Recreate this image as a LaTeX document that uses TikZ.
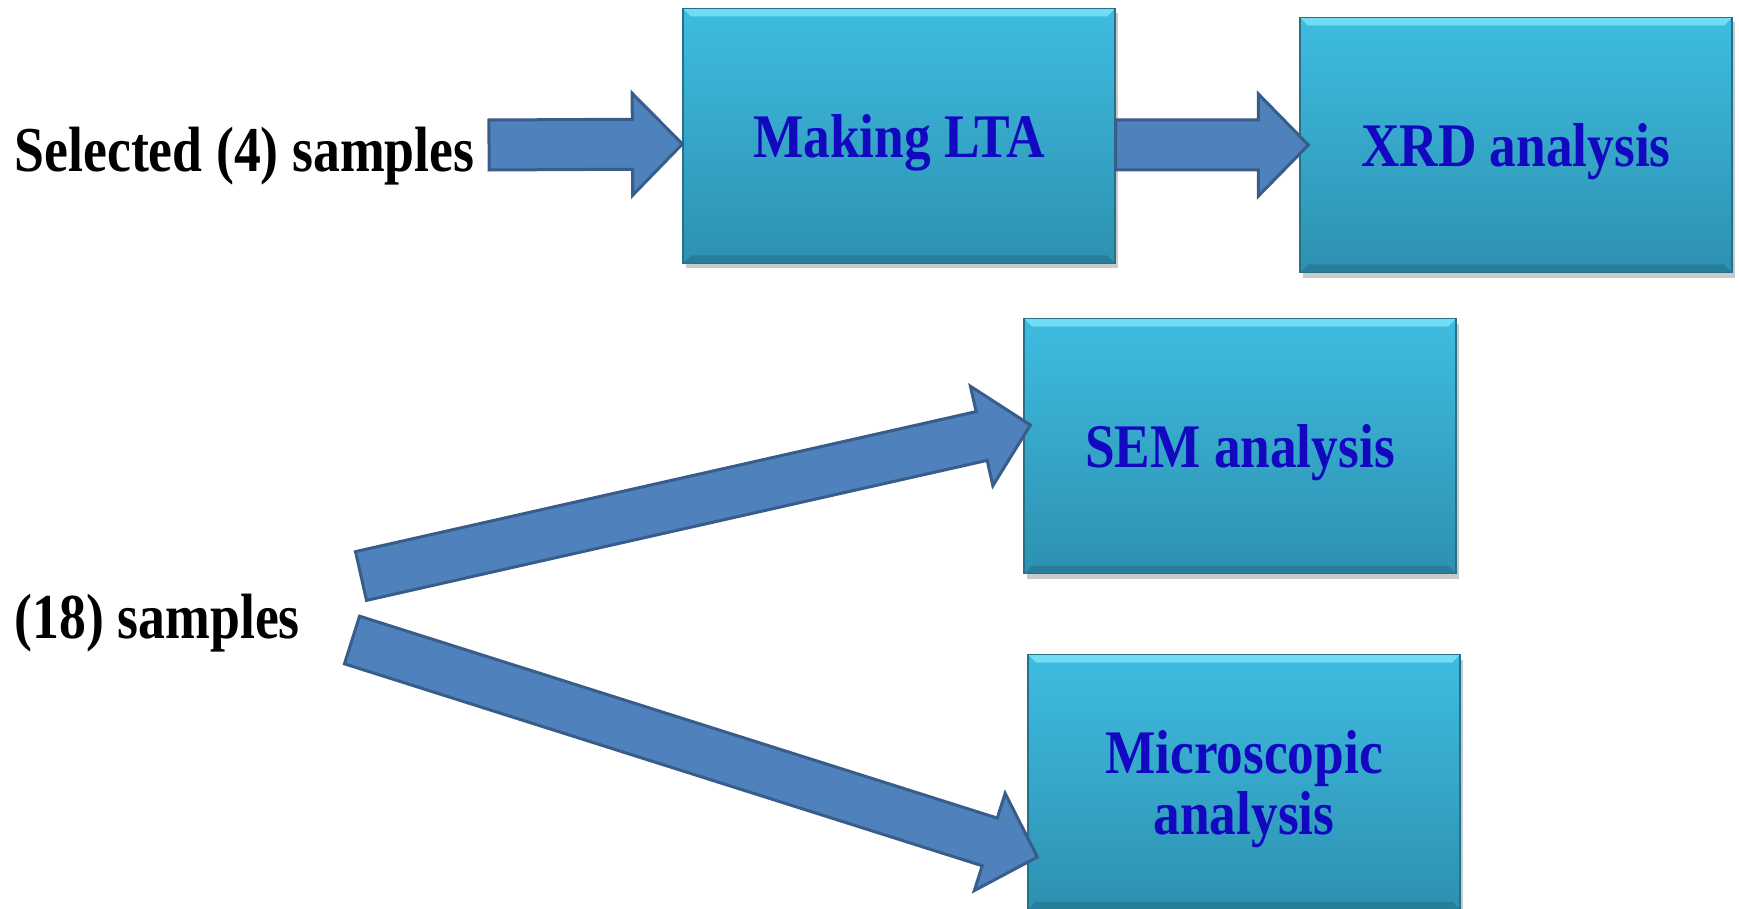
\documentclass[tikz,border=0pt]{standalone}
\usepackage{fontspec}
\setmainfont{Liberation Serif}
\newfontfamily\stagefont[FakeStretch=0.84]{Liberation Serif}
\newfontfamily\boxfont[FakeStretch=0.86]{Liberation Serif}
\usetikzlibrary{calc,shadows}
\definecolor{box_top}{RGB}{62,188,225}
\definecolor{box_bot}{RGB}{45,145,176}
\definecolor{box_edge}{RGB}{38,112,138}
\definecolor{box_hi}{RGB}{125,230,250}
\definecolor{box_lo}{RGB}{36,118,145}
\definecolor{arrow_fill}{RGB}{79,129,189}
\definecolor{arrow_edge}{RGB}{56,93,138}
\definecolor{text_blue}{RGB}{18,8,192}
\newcommand\headlen{50pt}
\newcommand\headw{51pt}
\newcommand\shaftw{25pt}
% fat block arrow from #1 (tail) to #2 (tip)
\newcommand\blockarrow[2]{%
  \coordinate (hb) at ($(#2)!\headlen!(#1)$);
  \draw[blockarr] ($(#1)!\shaftw!90:(#2)$) -- ($(hb)!\shaftw!90:(#2)$) -- ($(hb)!\headw!90:(#2)$)
    -- (#2) -- ($(hb)!\headw!-90:(#2)$) -- ($(hb)!\shaftw!-90:(#2)$) -- ($(#1)!\shaftw!-90:(#2)$) -- cycle;}

\begin{document}
\begin{tikzpicture}[x=1pt,y=-1pt,semithick]
    \tikzstyle{blockarr}=[fill=arrow_fill,draw=arrow_edge,line width=3pt,line join=miter]
    \tikzstyle{label}=[anchor=base west,text=black,font=\stagefont\bfseries\fontsize{64}{64}\selectfont]
    \tikzstyle{stage}=[rectangle,inner sep=0pt,minimum width=432pt,minimum height=255pt,
      top color=box_top,bottom color=box_bot,draw=box_edge,line width=1.2pt,
      text=text_blue,align=center,text depth=0pt,font=\boxfont\bfseries\fontsize{62}{61}\selectfont,
      drop shadow={shadow xshift=3pt,shadow yshift=-5pt,opacity=0.35,fill=black!60},
      path picture={
        \fill[box_hi,opacity=0.8] (path picture bounding box.north west) -- (path picture bounding box.north east)
          -- ([xshift=-8pt,yshift=-8pt]path picture bounding box.north east) -- ([xshift=8pt,yshift=-8pt]path picture bounding box.north west) -- cycle;
        \fill[box_lo,opacity=0.7] (path picture bounding box.south west) -- (path picture bounding box.south east)
          -- ([xshift=-8pt,yshift=8pt]path picture bounding box.south east) -- ([xshift=8pt,yshift=8pt]path picture bounding box.south west) -- cycle;
      }]

    \useasboundingbox (0,0) rectangle (1739,909);

    \node[label] (sel) at (11,172) {Selected (4) samples};
    \node[label] (all) at (11,638) {(18) samples};

    \node[stage] (lta)   at (899,136)   {Making LTA};
    \node[stage] (xrd)   at (1516,145)  {XRD analysis};
    \node[stage] (sem)   at (1240,446)  {SEM analysis};
    \node[stage] (micro) at (1244,782)  {Microscopic\\analysis};

    \coordinate (t1) at (489,145);
    \coordinate (t2) at ([yshift=-9pt]lta.east);
    \coordinate (t3) at (361,576);
    \coordinate (t4) at (352,640);
    \coordinate (lta-in)   at ([yshift=-8pt]lta.west);
    \coordinate (xrd-in)   at ([xshift=9pt]xrd.west);
    \coordinate (sem-in)   at ([xshift=7pt,yshift=21pt]sem.west);
    \coordinate (micro-in) at ([xshift=10pt,yshift=-75pt]micro.west);

    \blockarrow{t1}{lta-in}
    \blockarrow{t2}{xrd-in}
    \blockarrow{t3}{sem-in}
    \blockarrow{t4}{micro-in}
\end{tikzpicture}
\end{document}
